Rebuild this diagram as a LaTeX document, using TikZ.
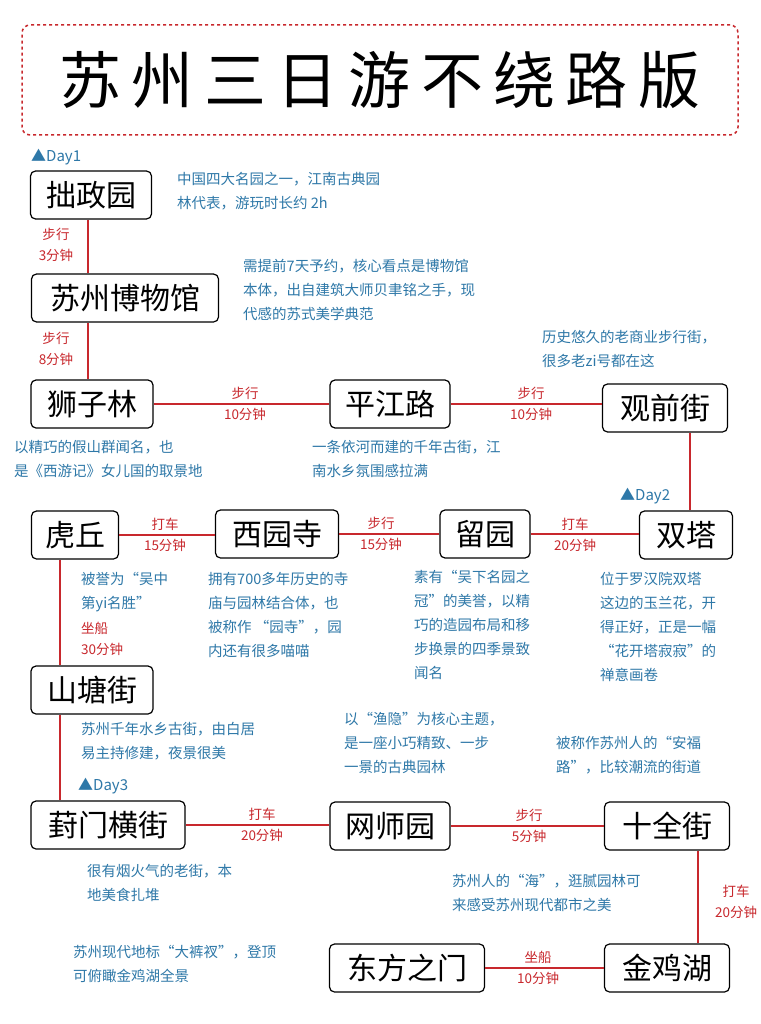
\documentclass[tikz,border=0pt]{standalone}
\usepackage{fontspec}
\setmainfont{Noto Sans CJK SC}
\definecolor{rd}{HTML}{C8282D}
\definecolor{bl}{HTML}{2E78A8}
\begin{document}
\begin{tikzpicture}[x=1pt,y=-1pt,
 pl/.style={draw=black,line width=1.2pt,rounded corners=5pt,fill=white,inner sep=0pt,minimum height=48pt,font=\fontsize{30}{32}\selectfont},
 ln/.style={draw=rd,line width=1.6pt},
 lb/.style={text=rd,font=\fontsize{13.5}{21}\selectfont,align=center},
 ds/.style={text=bl,font=\fontsize{14.5}{24}\selectfont,align=left,anchor=north west,inner sep=0pt},
 dy/.style={text=bl,font=\fontsize{15}{16}\selectfont,anchor=west,inner sep=0pt}]
\useasboundingbox (0,0) rectangle (760,1024);
\fill[white] (0,0) rectangle (760,1024);
\node[draw=rd,dashed,line width=1.5pt,rounded corners=8pt,minimum width=716pt,minimum height=110pt,font=\fontsize{62}{64}\selectfont] (title) at (380,80) {苏\,州\,三\,日\,游\,不\,绕\,路\,版};
% places
\node[pl,minimum width=121pt] (a) at (91,195) {拙政园};
\node[pl,minimum width=187pt] (b) at (125,298) {苏州博物馆};
\node[pl,minimum width=122pt] (c) at (92,404) {狮子林};
\node[pl,minimum width=120pt] (d) at (390,404) {平江路};
\node[pl,minimum width=125pt] (e) at (665,408) {观前街};
\node[pl,minimum width=87pt] (f) at (75,535) {虎丘};
\node[pl,minimum width=123pt] (g) at (277,534) {西园寺};
\node[pl,minimum width=90pt] (h) at (485,534) {留园};
\node[pl,minimum width=93pt] (i) at (686,535) {双塔};
\node[pl,minimum width=122pt] (j) at (92,690) {山塘街};
\node[pl,minimum width=154pt] (k) at (108,825) {葑门横街};
\node[pl,minimum width=120pt] (l) at (390,826) {网师园};
\node[pl,minimum width=125pt] (m) at (667,826) {十全街};
\node[pl,minimum width=155pt] (n) at (407,968) {东方之门};
\node[pl,minimum width=125pt] (o) at (667,968) {金鸡湖};
% connectors
\draw[ln] (a.south -| 88,0) -- (b.north -| 88,0);
\draw[ln] (b.south -| 88,0) -- (c.north -| 88,0);
\draw[ln] (c) -- (d);
\draw[ln] (d.east) -- (d.east -| e.west);
\draw[ln] (e.south -| 690,0) -- (i.north -| 690,0);
\draw[ln] (f.east) -- (f.east -| g.west);
\draw[ln] (g) -- (h);
\draw[ln] (h.east) -- (h.east -| i.west);
\draw[ln] (f.south -| 60,0) -- (j.north -| 60,0);
\draw[ln] (j.south -| 60,0) -- (k.north -| 60,0);
\draw[ln] (k.east) -- (k.east -| l.west);
\draw[ln] (l) -- (m);
\draw[ln] (m.south -| 698,0) -- (o.north -| 698,0);
\draw[ln] (n.east) -- (n.east -| o.west);
% labels
\node[lb] (la) at (56,245) {步行\\3分钟};
\node[lb] (lb1) at (56,349) {步行\\8分钟};
\node[lb] (lc) at (245,404) {步行\\10分钟};
\node[lb] (ld) at (531,404) {步行\\10分钟};
\node[lb] (lf) at (165,535) {打车\\15分钟};
\node[lb] (lg) at (381,534) {步行\\15分钟};
\node[lb] (lh) at (575,535) {打车\\20分钟};
\node[lb,align=left,anchor=north west,inner sep=0pt] (lj) at (81,622) {坐船\\30分钟};
\node[lb] (lk) at (262,825) {打车\\20分钟};
\node[lb] (ll) at (529,826) {步行\\5分钟};
\node[lb] (lm) at (736,902) {打车\\20分钟};
\node[lb] (ln2) at (538,968) {坐船\\10分钟};
% days
\node[dy] (d1) at (31,157) {▲Day1};
\node[dy] (d2) at (620,496) {▲Day2};
\node[dy] (d3) at (78,786) {▲Day3};
% descriptions
\node[ds] at (177,172) {中国四大名园之一，江南古典园\\林代表，游玩时长约 2h};
\node[ds] at (243,259) {需提前7天予约，核心看点是博物馆\\本体，出自建筑大师贝聿铭之手，现\\代感的苏式美学典范};
\node[ds] at (542,330) {历史悠久的老商业步行街，\\很多老zi号都在这};
\node[ds] at (14,440) {以精巧的假山群闻名，也\\是《西游记》女儿国的取景地};
\node[ds] at (312,440) {一条依河而建的千年古街，江\\南水乡氛围感拉满};
\node[ds] at (81,572) {被誉为“吴中\\第yi名胜”};
\node[ds] at (208,572) {拥有700多年历史的寺\\庙与园林结合体，也\\被称作 “园寺”，园\\内还有很多喵喵};
\node[ds] at (414,570) {素有“吴下名园之\\冠”的美誉，以精\\巧的造园布局和移\\步换景的四季景致\\闻名};
\node[ds] at (600,572) {位于罗汉院双塔\\这边的玉兰花，开\\得正好，正是一幅\\“花开塔寂寂”的\\禅意画卷};
\node[ds] at (81,722) {苏州千年水乡古街，由白居\\易主持修建，夜景很美};
\node[ds] at (344,712) {以“渔隐”为核心主题，\\是一座小巧精致、一步\\一景的古典园林};
\node[ds] at (556,736) {被称作苏州人的“安福\\路”，比较潮流的街道};
\node[ds] at (87,864) {很有烟火气的老街，本\\地美食扎堆};
\node[ds] at (452,874) {苏州人的“海”，逛腻园林可\\来感受苏州现代都市之美};
\node[ds] at (73,945) {苏州现代地标“大裤衩”，登顶\\可俯瞰金鸡湖全景};
\end{tikzpicture}
\end{document}
